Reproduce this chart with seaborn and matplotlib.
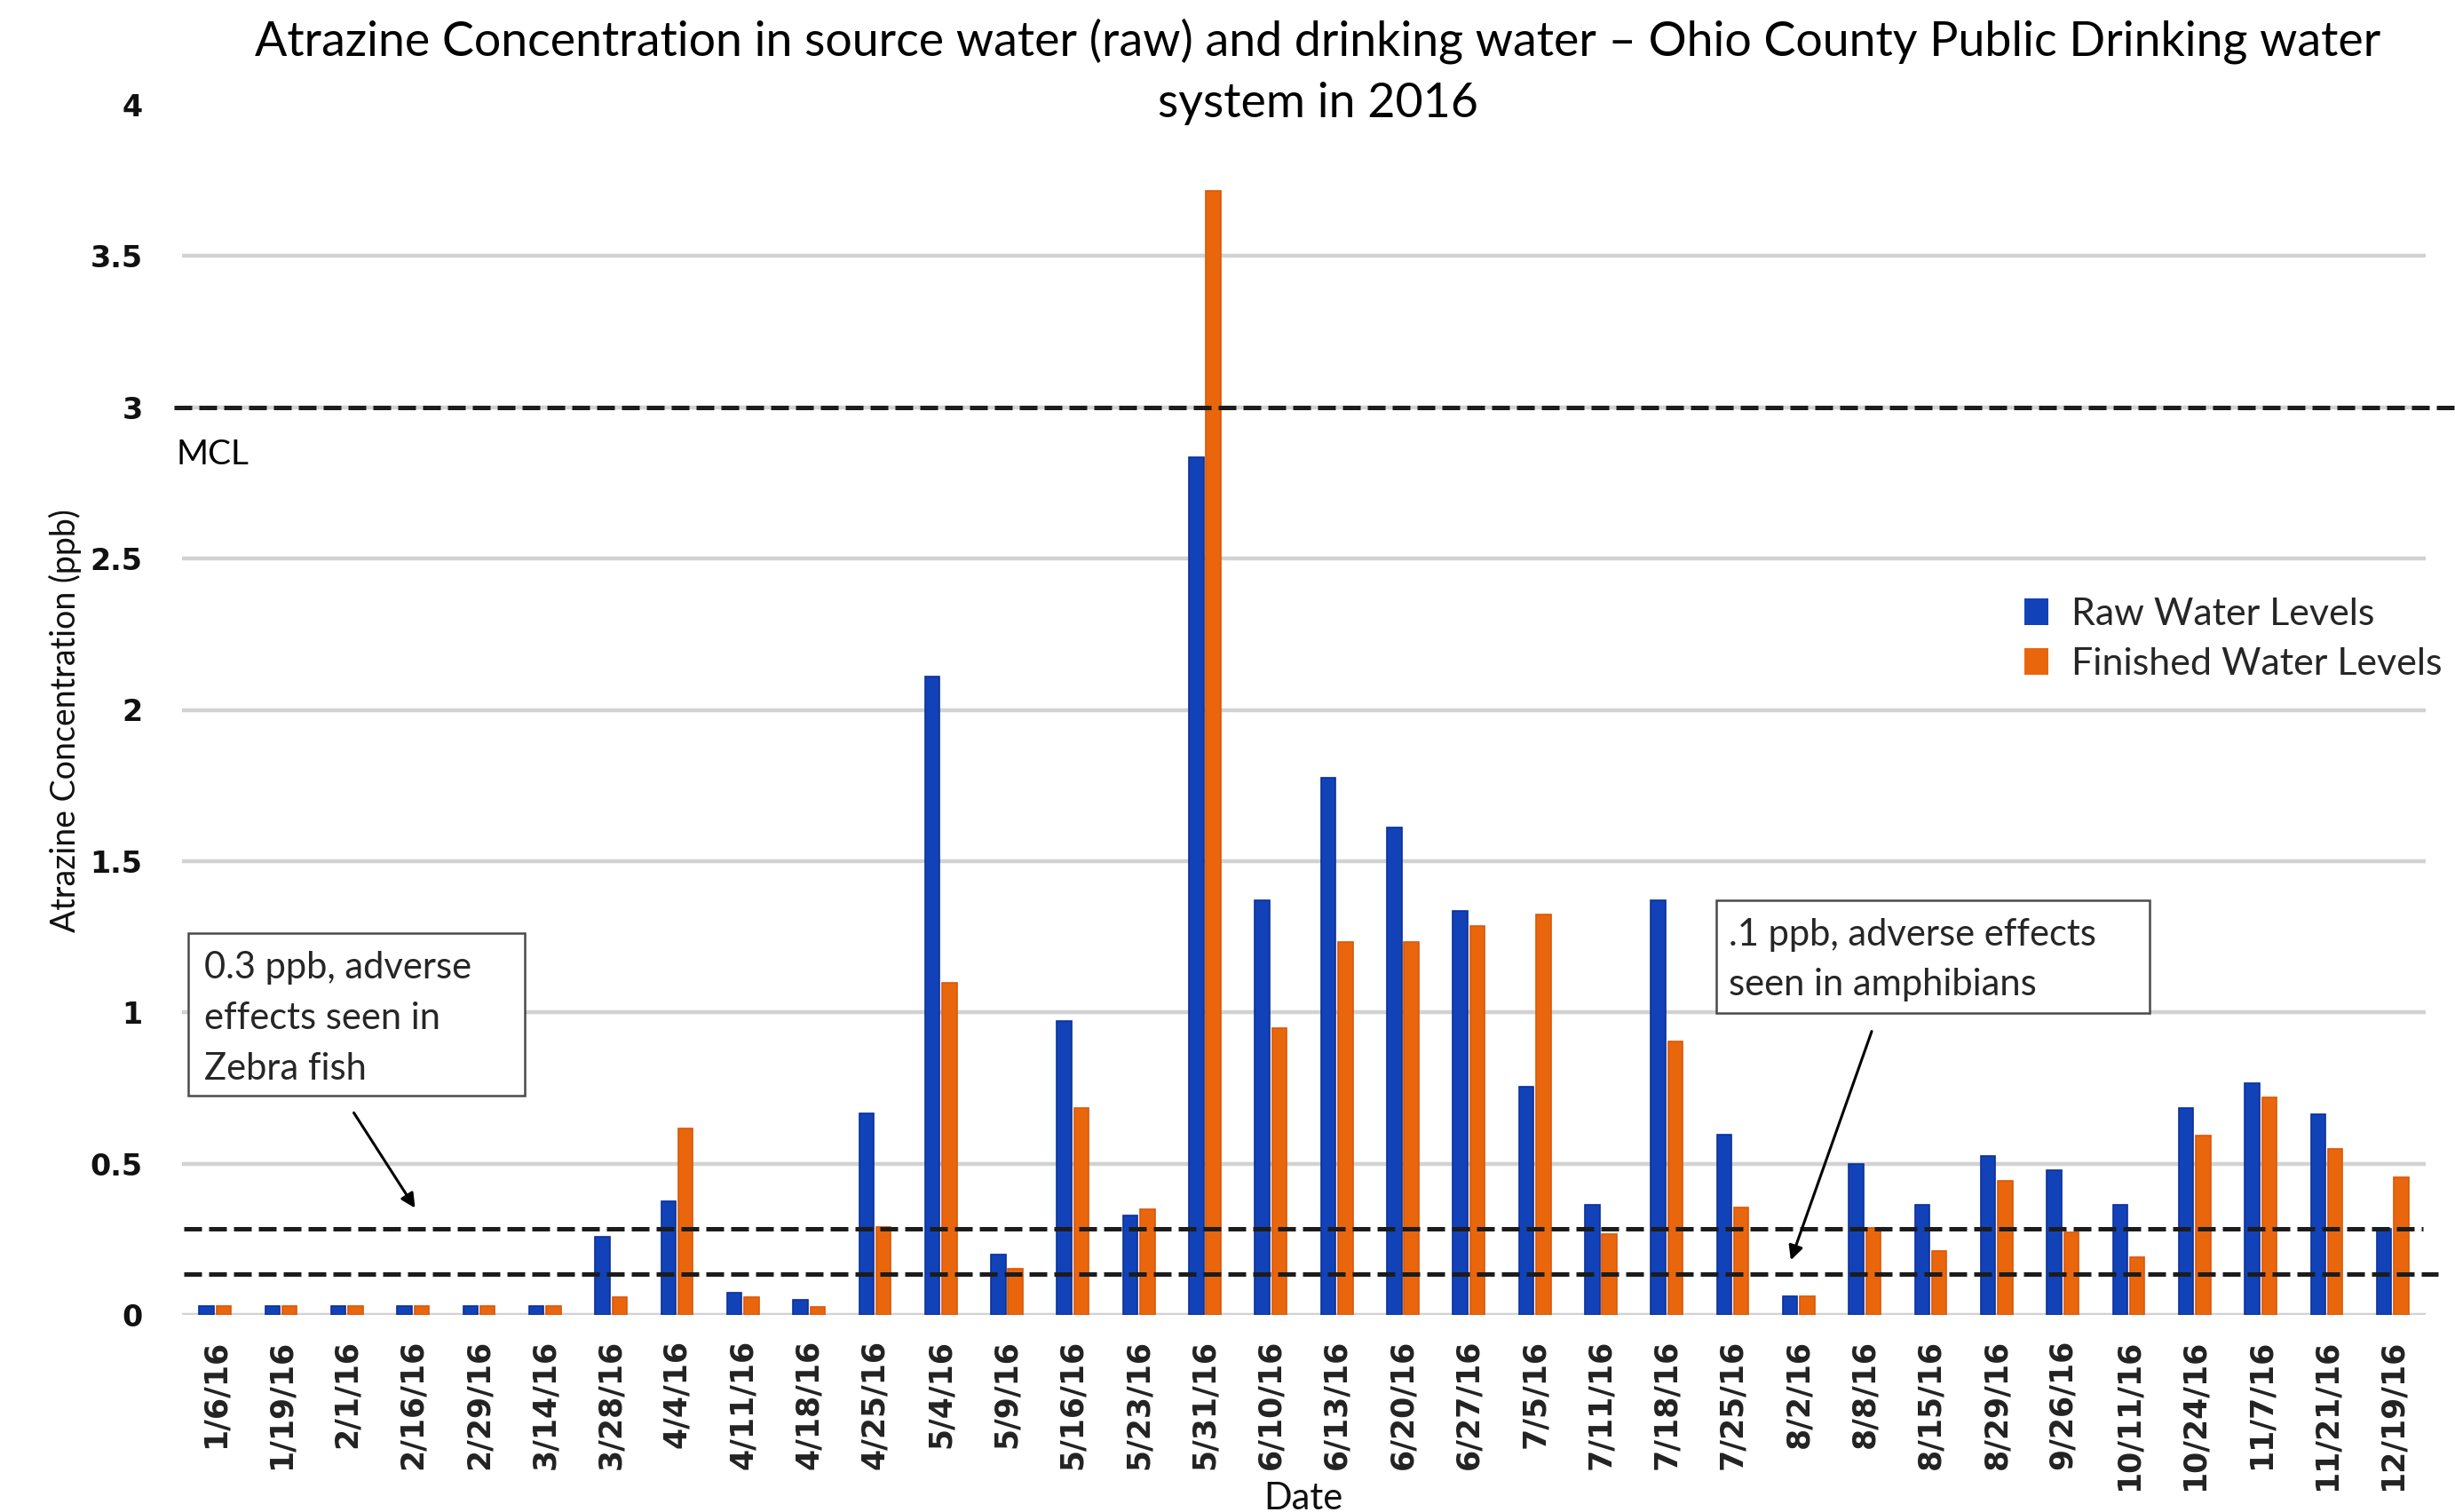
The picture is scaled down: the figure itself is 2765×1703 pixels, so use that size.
import matplotlib
matplotlib.use("Agg")
import matplotlib.pyplot as plt
from matplotlib.patches import Rectangle, FancyArrowPatch
from matplotlib.transforms import blended_transform_factory
import seaborn as sns
import pandas as pd

# Sampling dates and atrazine readings (ppb)
dates = ["1/6/16", "1/19/16", "2/1/16", "2/16/16", "2/29/16", "3/14/16", "3/28/16",
         "4/4/16", "4/11/16", "4/18/16", "4/25/16", "5/4/16", "5/9/16", "5/16/16",
         "5/23/16", "5/31/16", "6/10/16", "6/13/16", "6/20/16", "6/27/16", "7/5/16",
         "7/11/16", "7/18/16", "7/25/16", "8/2/16", "8/8/16", "8/15/16", "8/29/16",
         "9/26/16", "10/11/16", "10/24/16", "11/7/16", "11/21/16", "12/19/16"]
raw_levels = [0.028, 0.028, 0.028, 0.028, 0.028, 0.028, 0.258,
              0.375, 0.073, 0.050, 0.665, 2.11, 0.199, 0.97,
              0.328, 2.834, 1.37, 1.776, 1.61, 1.335, 0.755,
              0.365, 1.37, 0.595, 0.062, 0.50, 0.363, 0.525,
              0.478, 0.363, 0.685, 0.765, 0.663, 0.284]
finished_levels = [0.028, 0.028, 0.028, 0.028, 0.028, 0.028, 0.060,
                   0.617, 0.060, 0.027, 0.290, 1.098, 0.154, 0.685,
                   0.350, 3.716, 0.948, 1.232, 1.232, 1.285, 1.325,
                   0.268, 0.905, 0.356, 0.062, 0.288, 0.212, 0.444,
                   0.272, 0.190, 0.594, 0.720, 0.548, 0.455]
series_names = ["Raw Water Levels", "Finished Water Levels"]
series_colors = ["#1242B8", "#E9660C"]
series_edges = ["#0B3199", "#D9580A"]

y_ticks = [0, 0.5, 1, 1.5, 2, 2.5, 3, 3.5, 4]
y_tick_labels = ["0", "0.5", "1", "1.5", "2", "2.5", "3", "3.5", "4"]
mcl_level = 3.0
zebrafish_level = 0.285
amphibian_level = 0.135

title_lines = ["Atrazine Concentration in source water (raw) and drinking water \u2013 Ohio County Public Drinking water",
               "system in 2016"]
zebrafish_note = "0.3 ppb, adverse\neffects seen in\nZebra fish"
amphibian_note = ".1 ppb, adverse effects\nseen in amphibians"

W, H = 2765, 1703

sns.set_theme(style="white")
plt.rcParams["font.family"] = ["Lato", "DejaVu Sans"]


def fx(px):
    return px / W


def fy(py):
    return 1 - py / H


df = pd.DataFrame({
    "Date": dates * 2,
    "ppb": raw_levels + finished_levels,
    "Series": [series_names[0]] * len(dates) + [series_names[1]] * len(dates),
})

fig = plt.figure(figsize=(W / 100, H / 100), dpi=100)
ax = fig.add_axes([fx(205), fy(1481), (2732 - 205) / W, (1481 - 118) / H])

# light horizontal grid (no line at the top value)
for g in y_ticks[:-1]:
    ax.axhline(g, color="#D2D2D2", lw=3.2, zorder=0)

sns.barplot(data=df, x="Date", y="ppb", hue="Series", palette=series_colors,
            saturation=1, width=0.52, gap=0.15, linewidth=0, ax=ax, zorder=2)
n = len(dates)
for i, bar in enumerate(ax.patches[:2 * n]):
    bar.set_edgecolor(series_edges[i // n])
    bar.set_linewidth(1.2)

ax.set_xlim(-0.5, n - 0.5)
ax.set_ylim(0, 4)
for s in ax.spines.values():
    s.set_visible(False)
ax.grid(False)

# reference thresholds
trans = blended_transform_factory(fig.transFigure, ax.transData)
dash = dict(color="#1c1c1c", lw=3.6, linestyle=(0, (4, 1.6)), transform=trans,
            clip_on=False, zorder=4)
ax.plot([fx(196), fx(2765)], [mcl_level, mcl_level], **dash)
ax.plot([fx(207), fx(2729)], [zebrafish_level, zebrafish_level], **dash)
ax.plot([fx(207), fx(2746)], [amphibian_level, amphibian_level], **dash)

# ticks
ax.set_yticks(y_ticks, y_tick_labels)
ax.tick_params(axis="y", length=0, pad=32, labelsize=24, labelcolor="#111111")
ax.tick_params(axis="x", length=0, pad=20, labelsize=25, labelrotation=90,
               labelcolor="#222222")
for lab in ax.get_xticklabels() + ax.get_yticklabels():
    lab.set_fontfamily("DejaVu Sans")
    lab.set_fontweight("bold")

ax.set_xlabel("Date", fontsize=30, color="#111111")
ax.xaxis.set_label_coords(0.4998, (1481 - 1669) / 1363)
ax.set_ylabel("Atrazine Concentration (ppb)", fontsize=27, color="#111111")
ax.yaxis.set_label_coords((73 - 205) / 2527, (1481 - 812) / 1363)
ax.yaxis.label.set_va("center")

sns.move_legend(ax, "center left", bbox_to_anchor=(fx(2280), fy(720)),
                bbox_transform=fig.transFigure, frameon=False, title=None,
                fontsize=31, handlelength=0.62, handleheight=0.72,
                handletextpad=0.62, labelspacing=0.42, borderpad=0,
                borderaxespad=0)

# title
fig.text(fx(1484), fy(63), title_lines[0], ha="center", va="baseline",
         fontsize=38.7, color="black")
fig.text(fx(1484), fy(132), title_lines[1], ha="center", va="baseline",
         fontsize=38.7, color="black")

fig.text(fx(198), fy(512), "MCL", ha="left", va="center", fontsize=28, color="black")

# callout boxes with arrows
fig.add_artist(Rectangle((fx(212), fy(1234)), (591 - 212) / W, (1234 - 1051) / H,
                         transform=fig.transFigure, facecolor="white",
                         edgecolor="#4a4a4a", lw=1.8, zorder=5))
fig.text(fx(230), fy(1147), zebrafish_note, ha="left", va="center",
         fontsize=30, linespacing=1.6, zorder=6)
fig.add_artist(Rectangle((fx(1933), fy(1141)), (2421 - 1933) / W, (1141 - 1014) / H,
                         transform=fig.transFigure, facecolor="white",
                         edgecolor="#4a4a4a", lw=1.8, zorder=5))
fig.text(fx(1947), fy(1081), amphibian_note, ha="left", va="center",
         fontsize=30, linespacing=1.6, zorder=6)

for a, b in [((397, 1251), (469, 1363)), ((2109, 1159), (2016, 1422))]:
    fig.add_artist(FancyArrowPatch((fx(a[0]), fy(a[1])), (fx(b[0]), fy(b[1])),
                                   transform=fig.transFigure, arrowstyle="-|>",
                                   mutation_scale=24, lw=2.2, color="black",
                                   zorder=6))

fig.savefig("out.png", dpi=100, facecolor="white")
